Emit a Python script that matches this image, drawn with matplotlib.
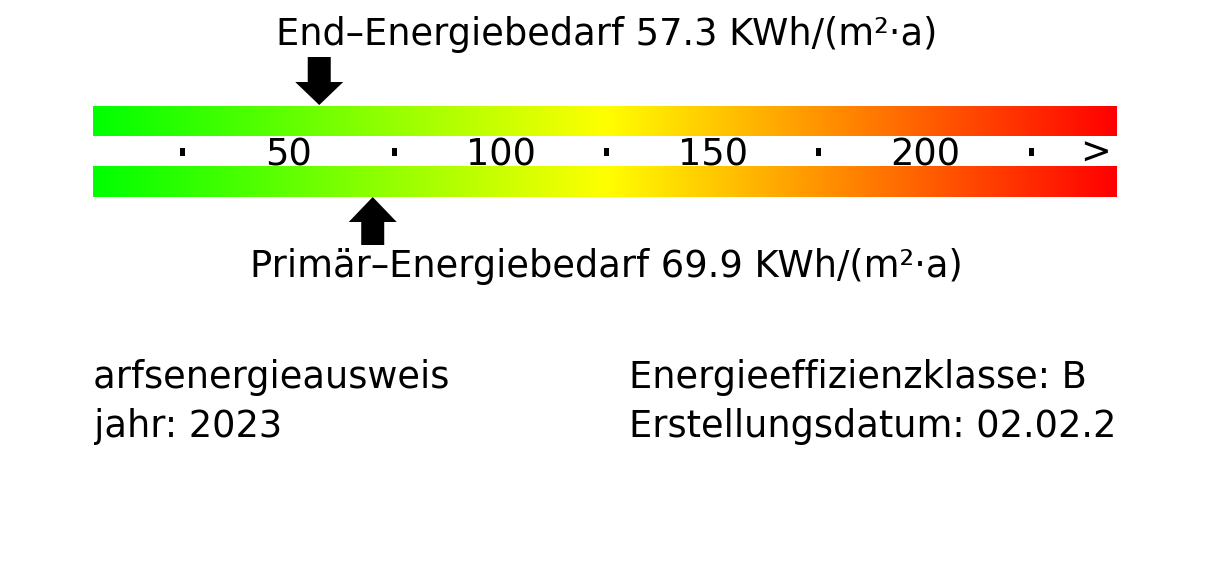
import numpy as np
import matplotlib
matplotlib.use("Agg")
import matplotlib.pyplot as plt
from matplotlib.colors import LinearSegmentedColormap
from matplotlib.patches import Polygon, Rectangle

# ---- data ----
end_energy = 57.3
primary_energy = 69.9
scale_labels = [50, 100, 150, 200]
scale_label_values = [50, 100, 150, 200]
dot_values = [25, 75, 125, 175, 225]
overflow_label = ">"
bar_range = [4.1, 245.3]
end_title = "End\u2013Energiebedarf 57.3 KWh/(m\u00b2\u00b7a)"
primary_title = "Prim\u00e4r\u2013Energiebedarf 69.9 KWh/(m\u00b2\u00b7a)"
left_info = ["Bedarfsenergieausweis", "Baujahr: 2023"]
left_prefix = ["Bed", "Bau"]
right_info = ["Energieeffizienzklasse: B", "Erstellungsdatum: 02.02.2023"]
gradient_colors = ["#00ff00", "#ffff00", "#ff0000"]

W, H = 1213, 576
FS = 26.5
plt.rcParams['font.family'] = ['DejaVu Sans']

fig = plt.figure(figsize=(W / 100, H / 100), dpi=100)
ax = fig.add_axes([0, 0, 1, 1])
X0, SC = 76.0, 4.245   # pixel of value 0, pixels per unit
def v(px):
    return (px - X0) / SC
ax.set_xlim(v(0), v(W))
ax.set_ylim(H, 0)
ax.axis('off')

cmap = LinearSegmentedColormap.from_list("energy", gradient_colors)
grad = np.linspace(0, 1, 512).reshape(1, -1)
for (y0, y1) in [(106, 136), (166, 197)]:
    ax.imshow(grad, cmap=cmap, aspect='auto', interpolation='bilinear',
              extent=[bar_range[0], bar_range[1], y1, y0], zorder=1)
ax.set_xlim(v(0), v(W))
ax.set_ylim(H, 0)

# scale dots and labels
for d in dot_values:
    ax.add_patch(Rectangle((d - 2.5 / SC, 148), 5 / SC, 8, color='black', lw=0, zorder=3))
for val, lab in zip(scale_label_values, scale_labels):
    ax.text(val, 165, str(lab), fontsize=FS, ha='center', va='baseline', zorder=3)
ax.text(bar_range[1] - 6 / SC, 164, overflow_label, fontsize=FS, ha='right', va='baseline', zorder=3)

# arrows
hw, sw = 24 / SC, 11.5 / SC
def arrow(val, tip, base, end):
    pts = [(val, tip), (val - hw, base), (val - sw, base), (val - sw, end),
           (val + sw, end), (val + sw, base), (val + hw, base)]
    ax.add_patch(Polygon(pts, closed=True, color='black', lw=0, zorder=4))
arrow(end_energy, 105, 82, 57)
arrow(primary_energy, 197, 222, 245)

cx = v(W / 2)
ax.text(cx, 45, end_title, fontsize=FS, ha='center', va='baseline')
ax.text(cx, 277, primary_title, fontsize=FS, ha='center', va='baseline')

# bottom info, clipped to the bar region
ax2 = fig.add_axes([94 / W, 0, (1117 - 94) / W, 1])
ax2.set_xlim(94, 1117)
ax2.set_ylim(H, 0)
ax2.axis('off')
r = fig.canvas.get_renderer()
for txt, pre, yb in zip(left_info, left_prefix, [388, 437]):
    t = ax2.text(0, 0, pre, fontsize=FS)
    w = t.get_window_extent(r).width
    t.remove()
    ax2.text(94 - w, yb, txt, fontsize=FS, ha='left', va='baseline', clip_on=True)
for txt, yb in zip(right_info, [388, 437]):
    ax2.text(629, yb, txt, fontsize=FS, ha='left', va='baseline', clip_on=True)

fig.savefig("out.png", dpi=100)
